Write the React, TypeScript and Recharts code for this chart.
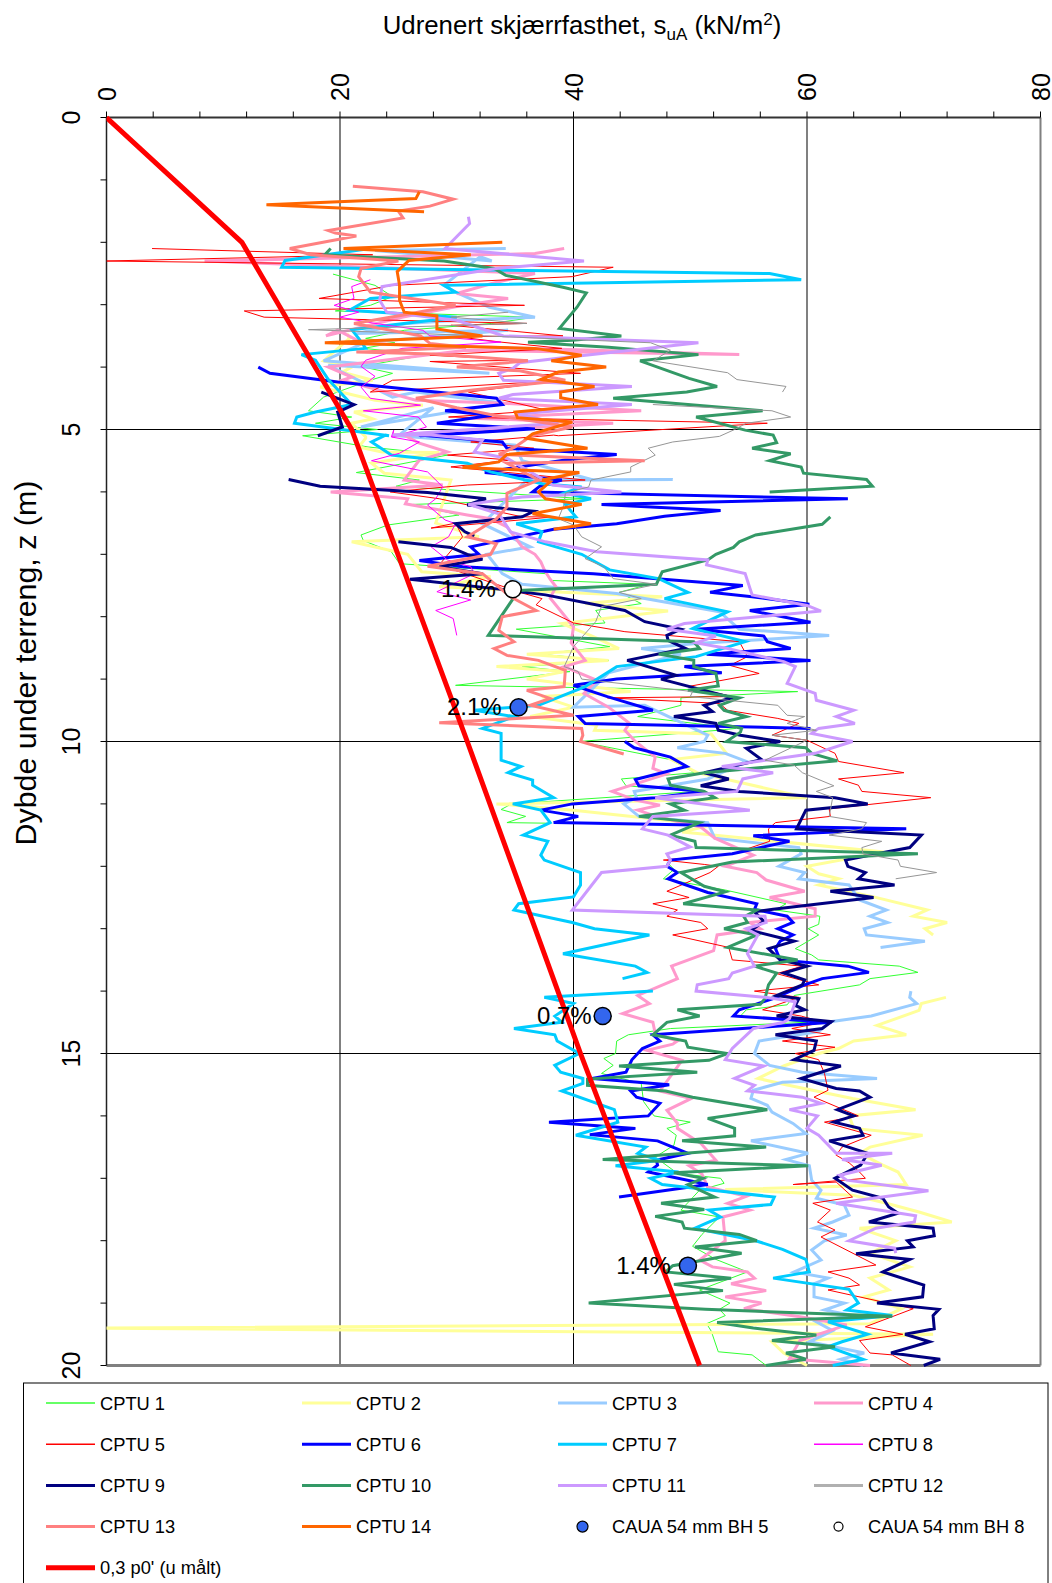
import React from "react";
import { ScatterChart, Scatter, XAxis, YAxis, ReferenceLine, Customized } from "recharts";

type P = [number, number];

const xTicks = [0, 4, 8, 12, 16, 20, 24, 28, 32, 36, 40, 44, 48, 52, 56, 60, 64, 68, 72, 76, 80];
const xLabels = [0, 20, 40, 60, 80];
const yTicks = [0, 1, 2, 3, 4, 5, 6, 7, 8, 9, 10, 11, 12, 13, 14, 15, 16, 17, 18, 19, 20];
const yLabels = [0, 5, 10, 15, 20];

const cptu1: P[] = [[19.4,2.51],[23,2.69],[24.5,2.87],[22.6,3.01],[19.6,3.1],[36.7,3.2],[33,3.3],[25.5,3.41],[22.2,3.54],[24.7,3.61],[22,3.7],[27.5,3.8],[21.8,3.99],[24.5,4.1],[22.6,4.21],[18.6,4.48],[17.3,4.7],[21,4.8],[17.9,4.9],[23.2,5],[16.8,5.1],[22.4,5.28],[29.2,5.41],[21.4,5.69],[26.8,5.81],[24.8,5.91],[41,6.11],[26.3,6.2],[30.2,6.37],[24.1,6.53],[21.8,6.69],[22,6.78],[24.4,6.96],[25.1,7.15],[37.6,7.31],[38.2,7.42],[46.5,7.48],[43.9,7.61],[45.8,7.79],[41.9,7.9],[42.7,8.1],[35.1,8.2],[43.1,8.48],[37,8.6],[43,8.7],[35.6,8.8],[39.7,8.88],[29.9,9.1],[59.2,9.2],[49.2,9.3],[49.2,9.42],[45.5,9.6],[53.9,9.79],[52.4,9.82],[40.5,10],[48.3,10.29],[50.4,10.5],[44.1,10.6],[44.5,10.71],[50.6,10.8],[34.7,11],[33.8,11.09],[35.9,11.2],[34.3,11.3],[38,11.31]];
const cptu1b: P[] = [[48,11.93],[48.6,12.05],[47.7,12.2],[53,12.38],[58.2,12.6],[57.3,12.7],[61.1,12.8],[61,12.93],[60.1,13],[61,13.1],[59,13.32],[60.4,13.42],[61,13.5],[67.9,13.6],[69.5,13.7],[65.4,13.8],[64.5,13.9],[58.9,14.07],[58.3,14.22],[54.8,14.3],[54.3,14.4],[60,14.5],[48.3,14.6],[44.7,14.7],[43.7,14.8],[43.6,15],[42.6,15.08],[43.4,15.19],[42.4,15.32],[45.8,15.48],[46,15.77],[46.9,16],[50,16.1],[48,16.2],[48.8,16.31],[48.6,16.47],[47,16.66],[48.9,16.92],[52.6,17],[52.9,17.08],[50.8,17.19],[49.2,17.51],[52.5,17.62],[51,17.9],[50.2,18.09],[52.2,18.3],[54.9,18.5],[50.8,18.79],[53.4,19],[52.5,19.1],[53,19.2],[51.4,19.33],[51.8,19.45],[52.4,19.78],[55.3,19.83],[56.5,20]];
const cptu2: P[] = [[20.6,3.46],[20.8,3.54],[18.6,3.9],[21,4],[20.2,4.08],[22.8,4.21],[18.3,4.32],[23,4.53],[27.1,4.61],[21.2,4.72],[22.8,4.83],[21,4.9],[22.2,5.12],[22.2,5.14],[21.6,5.28],[23.6,5.36],[28.5,5.37],[22.7,5.54],[23.8,5.7],[29.5,5.81],[28.2,6.5],[31.9,6.72],[21,6.8],[25.8,7],[27,7.28],[32.9,7.36],[28.5,7.52],[47.6,7.68],[41,7.79],[48.1,7.91],[39,8.11],[41.7,8.32],[43.9,8.51],[36,8.6],[43,8.7],[33.4,8.8],[39.2,8.88],[36,9],[44.9,9.2],[37.3,9.28],[40,9.45],[36.3,9.6],[42,9.74],[41.8,9.82],[51.8,9.88],[53.1,10.19],[48.4,10.29],[50.6,10.5],[60,10.9],[33.4,11],[40,11.1],[51.8,11.34],[49.3,11.45],[66.6,11.77],[60,12],[61,12.12],[62.7,12.2],[61,12.3],[65.7,12.49],[70.3,12.7],[69.1,12.8],[72,12.9],[70.1,13],[70.8,13.1]];
const cptu2b: P[] = [[71.9,14.1],[69.8,14.2],[69.6,14.31],[66,14.55],[68.5,14.7],[64,14.8],[62.7,14.92],[61,15],[58,15.2],[55.8,15.4],[58.2,15.5],[63.9,15.72],[69.3,15.9],[63.6,16],[64,16.2],[69.9,16.31],[65.4,16.5],[64.5,16.6],[66.5,16.79],[67.8,16.9],[68.5,17.1],[53,17.18],[63.9,17.27],[66.8,17.4],[69.6,17.54],[72.4,17.7],[64.5,17.8],[67.6,18],[65.4,18.2],[68.8,18.42],[65.4,18.6],[67,18.79],[64.9,18.9],[68.1,19.09],[65.4,19.33],[-1,19.4],[70.8,19.5],[57,19.62],[58,19.8],[60,20]];
const cptu3: P[] = [[34.2,2.1],[23,2.13],[33,2.3],[32,2.23],[28.9,2.69],[29.9,2.8],[32.8,3.04],[36.7,3.2],[30,3.25],[25.7,3.3],[21.4,3.46],[34.4,3.41],[22.2,3.6],[18.6,3.9],[32.8,4.1],[19,3.97],[24.5,4.48],[26.5,4.4],[34,4.58],[21.8,4.96],[28,4.65],[25,5.1],[35,5.25],[35.6,5.5],[41.7,5.81],[48.5,5.8],[36,5.81],[32.2,6.51],[36.3,6.88],[32.6,7],[33.9,7.31],[35.6,7.48],[43.7,7.63],[52.5,7.92],[54.2,8.2],[61.9,8.3],[50.5,8.43],[45.8,8.51],[49.2,8.6],[43,8.9],[40,9.45],[46.1,9.42],[51.5,9.9],[51.2,10],[48.9,10.1],[53,10.19],[54.8,10.32],[51.5,10.6],[45.2,10.8],[45.4,10.9],[44.3,11],[45.6,11.2],[51.5,11.3],[52.1,11.55],[59.3,11.7],[59.5,11.8],[57.6,12],[59.8,12.1],[59.3,12.2],[63.6,12.3],[64.5,12.54],[66.8,12.7],[65.4,12.8],[66.9,12.9],[64.9,13],[65.1,13.1],[70.1,13.2],[66.3,13.3]];
const cptu3b: P[] = [[68.9,14],[68.8,14.1],[69.4,14.2],[65.5,14.4],[62,14.49],[61,14.65],[55.9,14.8],[55.5,15],[56.8,15.19],[59.6,15.3],[66,15.4],[57.9,15.46],[55.4,15.59],[55.2,15.72],[56.6,15.83],[57,15.94],[58.8,16.12],[59.9,16.28],[55.2,16.4],[60.1,16.6],[58.2,16.7],[60.2,16.8],[60.4,17.03],[61.2,17.19],[60.8,17.32],[63.2,17.43],[63.6,17.59],[62.2,17.7],[60.6,17.8],[63.4,17.91],[61.5,18],[60.4,18.15],[61.2,18.31],[58.9,18.5],[61.8,18.6],[60.6,18.69],[60.6,18.9],[63.2,19],[61.5,19.11],[63.9,19.2],[60.8,19.3],[62.2,19.44],[60.2,19.62],[64.9,19.8],[62.9,19.9],[64.8,20]];
const cptu4: P[] = [[39.2,2.1],[36.7,2.18],[8.4,2.3],[36.7,2.5],[33,2.66],[30,2.82],[34.4,2.9],[30,3.03],[25.3,3.2],[18.8,3.5],[19.8,3.41],[22,3.62],[54.2,3.8],[30.8,3.73],[19,4],[21,4.16],[20.2,4.21],[26.5,4.53],[34,4.58],[45.8,4.7],[31.2,4.82],[43.4,4.9],[24.5,5.09],[25.5,5.09],[26.8,5.22],[29.2,5.36],[26.8,5.49],[25.5,5.81],[28.8,5.89],[19.2,6],[25.8,6.11],[25.6,6.19],[30.9,6.37],[32.9,6.43],[34.3,6.56],[35.6,6.88],[36.7,7.0],[37.2,7.12],[37.5,7.25],[38,7.4],[38.5,7.52],[38,7.7],[40,8.16],[39.8,8.42],[41,8.7],[39.2,8.8],[42,9.02],[40.9,9.23],[43,9.45],[44.8,9.71],[44.4,9.82],[45.3,10],[47,10.25],[46.8,10.43],[48,10.52],[43.3,10.8],[45.3,10.94],[47.4,11.02],[45.5,11.1],[47.1,11.2],[50.9,11.37],[52.1,11.55],[55.4,11.82],[53,12],[55.7,12.1],[56.5,12.22],[59.8,12.4],[56.8,12.5],[60.7,12.68],[60.7,12.8],[55.1,12.9],[56,13],[52.3,13.1],[52,13.35],[48.4,13.6],[48.9,13.8],[45.5,14.07],[46.5,14.2],[44.2,14.36],[46.8,14.5],[47,14.68],[48.9,14.8],[48.5,14.85],[46.3,14.95],[49.3,15.11],[47.4,15.6],[50.1,15.72],[48,15.91],[48.9,16.12],[48.9,16.2],[50.9,16.44],[52.2,16.71],[49.9,16.8],[51,16.93],[51.5,17.14],[54.8,17.29],[53.2,17.4],[55.1,17.51],[52.8,17.62],[53,18],[50.8,18.31],[51.9,18.42],[54.9,18.5],[55.5,18.6],[53.5,18.69],[56.5,18.8],[53,18.9],[56.1,19],[54.6,19.09],[59.4,19.22],[63.4,19.35],[59.4,19.6],[58.5,19.89],[65.4,20]];
const cptu5: P[] = [[3.9,2.1],[22.8,2.2],[0,2.3],[43.4,2.4],[39.9,2.55],[24.5,2.69],[18.2,2.9],[35.8,3.01],[11.8,3.1],[13.5,3.2],[36,3.3],[29.5,3.33],[39.1,3.5],[29.9,3.51],[33.8,3.6],[39,3.7],[27.7,3.81],[36.1,3.89],[27.7,3.91],[40.6,4.1],[24.5,4.21],[22.6,4.4],[39.1,4.21],[31,4.4],[37.7,4.69],[29.3,4.8],[56.6,4.9],[38.7,5.1],[38.3,5.09],[31.2,5.2],[36.6,5.3],[29.2,5.41],[34.6,5.49],[29.5,5.6],[41,5.81],[30.9,5.89],[24.3,6],[28.5,6.11],[35.6,6.4],[38.3,6.4],[27.8,6.58],[29.9,6.5],[30.5,6.72],[28.5,7.17],[35.6,7.62],[37.3,7.71],[36.8,7.81],[40,8.1],[44.4,8.24],[54.2,8.4],[54.9,8.64],[53.4,8.78],[55.9,8.91],[49.8,9.12],[53.6,9.28],[42.9,9.3],[52.5,9.39],[53.2,9.5],[57.5,9.63],[59.3,9.71],[57,9.9],[60,9.98],[62.4,10.19],[62.7,10.32],[68.3,10.5],[62.7,10.6],[64.4,10.7],[64.7,10.8],[70.6,10.9],[61.9,11.08],[62,11.2],[57.3,11.3],[56.7,11.4],[56.8,11.6],[53.6,11.8],[47.7,11.9],[51.2,11.97],[52.4,12],[51.7,12.1],[48,12.4],[49.9,12.5],[46.8,12.6],[48.9,12.7],[48,12.8],[50.9,12.9],[51.5,13],[48.5,13.1],[53.3,13.3],[53.6,13.5],[59.6,13.6],[57.4,13.72],[61,13.9],[55.5,14],[59.3,14.1],[56.2,14.3],[59.5,14.4],[61.4,14.5],[58.7,14.6],[62,14.7],[57.9,14.8],[62.4,14.9],[59,15],[61,15.1],[61.5,15.32],[61.8,15.59],[60.6,15.7],[64.4,16],[61.5,16.1],[65.5,16.31],[63,16.5],[62.5,16.63],[63.6,16.75],[64.5,16.9],[65,17],[58.8,17.1],[62.5,17.06],[63.9,17.3],[60.5,17.4],[62,17.51],[60.9,17.7],[62.4,17.83],[61.2,17.94],[65.9,18.39],[61.8,18.5],[63.6,18.6],[64.5,18.71],[61.8,18.79],[69.1,19.09],[65,19.38],[68.2,19.5],[64.5,19.6],[65.4,19.8],[67.3,19.83],[68.9,20]];
const cptu6: P[] = [[13,4],[14,4.1],[19.8,4.24],[33.4,4.5],[33.9,4.6],[29,4.7],[33,4.77],[28.3,4.9],[36.7,4.99],[26.9,5.1],[26.8,5.09],[33.9,5.2],[34.3,5.3],[43.7,5.4],[39.3,5.49],[35.3,5.6],[32.4,5.69],[39,5.81],[37.1,5.91],[36.5,6],[63.5,6.11],[42.4,6.2],[52.6,6.3],[47.8,6.39],[43.7,6.51],[38.3,6.6],[31.2,6.88],[31.9,7],[26.8,7.1],[30.5,7.2],[41.7,7.31],[54.5,7.5],[51.7,7.61],[55.3,7.68],[60.2,7.8],[55.1,7.9],[60.3,8.09],[50.5,8.2],[56.3,8.31],[56.6,8.4],[58.6,8.51],[51.4,8.6],[60.3,8.7],[49.5,8.8],[52.7,8.9],[43.7,9],[40,9.1],[42.9,9.28],[46.8,9.5],[40.4,9.6],[41,9.71],[60.3,9.79]];
const cptu6b: P[] = [[44.4,10],[45.2,10.1],[48.3,10.25],[49.7,10.4],[45.3,10.61],[45.6,10.71],[51.2,10.8],[47,10.9],[39.9,11],[37.2,11.1],[40.4,11.2],[38.3,11.3],[68.5,11.4],[55.4,11.51],[58.5,11.6],[53.6,11.8],[48.3,11.9],[48,12],[48.9,12.1],[48.1,12.2],[51.5,12.42],[55.7,12.6],[55.5,12.69],[58.3,12.8],[58.8,12.9],[57.5,13],[58.8,13.1],[57.7,13.2],[57.3,13.32],[57.7,13.5],[63.5,13.6],[65.3,13.7],[61.3,13.8],[59.8,13.9],[57.1,14.12],[54.2,14.3],[53.7,14.4],[62.1,14.5],[46.8,14.7],[47.4,14.8],[45.9,14.92],[45,15.1],[44.5,15.3],[41.6,15.4],[48.2,15.5],[44.9,15.6],[45.4,15.7],[47.4,15.8],[46.4,16],[37.9,16.1],[45.3,16.2],[41.4,16.3],[47.2,16.4],[48.5,16.5],[49.8,16.6],[47.1,16.71],[47.2,16.79],[46.4,16.9],[51.5,17.1],[43.9,17.3]];
const cptu7: P[] = [[22.6,2.1],[15.3,2.29],[15,2.4],[56.8,2.5],[59.5,2.6],[28.9,2.69],[29.9,2.8],[22.6,2.9],[20.8,3.09],[30,3.2],[21,3.4],[21.6,3.54],[22.2,3.7],[16.7,3.8],[17.9,3.89],[19,4.2],[21,4.6],[17.9,4.72],[16.3,4.8],[16.1,4.9],[24.2,5.1],[23.9,5.09],[22.7,5.2],[24.4,5.41],[30.9,5.54],[32.9,5.68],[37.3,5.87],[40.7,5.92],[39.2,6.02],[41.5,6.11],[39.3,6.2],[40.2,6.4],[35.1,6.51],[37.3,6.64],[37,6.8],[40.7,7],[43.1,7.25],[47.3,7.39],[49.8,7.61],[47.8,7.71],[53.2,7.92],[50.2,8.19],[54.7,8.4],[50.5,8.64],[43.7,8.8],[41,9.12],[37,9.42],[31.5,9.5],[34.9,9.6],[32.2,9.79],[33.8,9.87],[33.8,10.3],[35.5,10.4],[34.4,10.5],[36.5,10.62],[36.5,10.7],[38.3,10.9],[34.8,11],[37.2,11.1],[38,11.3],[35.7,11.5],[37.8,11.6],[37.2,11.82],[37.5,11.9],[40.6,12.1],[40.6,12.3],[40,12.49],[35.3,12.6],[34.9,12.7],[39.9,12.9],[41.8,13],[46.5,13.1],[39.1,13.4],[45.3,13.6],[46.3,13.7],[44.2,13.8]];
const cptu7b: P[] = [[46.8,14],[37.5,14.1],[40,14.2],[38.4,14.4],[39,14.5],[34.9,14.6],[38.4,14.7],[38.6,14.8],[40.5,15],[38.4,15.19],[38.9,15.3],[40.8,15.4],[40.8,15.48],[39,15.6],[43.5,15.9],[43.8,16.1],[40.2,16.31],[46.2,16.5],[45.5,16.6],[47.4,16.71],[43.6,16.8],[49,16.9],[46.6,17],[47.6,17.1],[51.9,17.19],[57.2,17.3],[56.9,17.42],[51.6,17.51],[52.6,17.62],[50.4,17.8],[55.6,18],[57.9,18.14],[59.9,18.3],[60.2,18.5],[57.1,18.6],[63.6,18.78],[64.4,19],[63.4,19.11],[67.3,19.2],[61.8,19.3],[65.2,19.5],[63,19.62],[61.8,19.7],[64.8,19.9],[62.2,20]];
const cptu8: P[] = [[22.6,2.6],[21,2.71],[21.2,2.9],[19.5,3.01],[21.6,3.12],[20,3.2],[23,3.3],[27.1,3.41],[27.7,3.5],[33.8,3.6],[25.3,3.7],[22.2,3.89],[21.8,3.99],[23,4.15],[21.8,4.32],[22.6,4.5],[26.9,4.61],[22,4.7],[26.7,4.8],[27.4,4.96],[24.5,5.12],[24.6,5.01],[24.4,5.12],[26.8,5.2],[25.1,5.38],[22.7,5.5],[27.5,5.68],[28.8,5.92],[28.2,6.11],[27.5,6.21],[29,6.45],[29.9,6.51],[29.3,6.72],[27.8,6.88],[29.2,7.09],[31.2,7.2],[31.5,7.31],[28.3,7.6],[31.2,7.73],[28.2,7.9],[29.7,8.03],[30,8.3]];
const cptu9: P[] = [[18.4,4.4],[21.2,4.6],[19.8,4.72],[20.2,4.96],[18.1,5.1]];
const cptu9b: P[] = [[15.6,5.8],[18.3,5.91],[27.5,6.01],[32.5,6.11],[30.9,6.21],[36.6,6.31],[35.6,6.4],[29.9,6.51],[30.7,6.64],[31.5,6.71]];
const cptu9c: P[] = [[25,6.8],[29.5,6.89],[30.9,7],[32.2,7.08],[28.5,7.2],[32.2,7.31],[26,7.4],[34.2,7.57],[37.6,7.65],[44.4,7.9],[46.1,8.08],[49.2,8.2],[48,8.3],[48.1,8.38],[49.6,8.51],[44.6,8.7],[48.8,8.94],[47.5,9],[53.6,9.3],[51.2,9.42],[51.9,9.52],[48.6,9.6],[52.2,9.71],[52.4,9.82],[54.3,9.9],[57.7,10],[54.8,10.11],[56.1,10.29],[51.2,10.5],[53.3,10.6],[50.9,10.71],[54.2,10.8],[62.4,10.9],[65.2,11],[59.9,11.1],[59.1,11.4],[69.8,11.5],[68.8,11.7],[66,11.8],[63.3,11.9],[63.5,12],[65,12.1],[64.4,12.2],[67.5,12.3],[62,12.4],[65.7,12.5],[57.1,12.69],[55.5,12.73],[56.3,12.88],[55.2,13.03],[58.9,13.2],[56.7,13.32],[57.7,13.5],[60,13.6],[58,13.71],[59.8,13.82],[59.6,13.9],[57.4,14.07],[59.3,14.12],[59,14.23],[59.8,14.3],[57.4,14.4],[62.1,14.49],[61.3,14.6],[57.3,14.7],[60.8,14.8],[60.6,14.95],[58.9,15.1],[62.9,15.2],[59.5,15.4],[62.5,15.56],[64.5,15.6],[65.4,15.7],[62.6,15.9],[64,16],[62.3,16.1],[64.5,16.2],[64.8,16.31],[61.9,16.4],[65.2,16.6],[64.6,16.79],[62.4,17],[63.9,17.19],[66.5,17.32],[67,17.46],[67.8,17.56],[65.3,17.7],[70.8,17.8],[70.9,17.92],[68.6,18],[69.1,18.1],[64.2,18.21],[68.8,18.3],[66.5,18.5],[70,18.71],[69.9,18.9],[66,19],[71.3,19.1],[70.8,19.2],[70.9,19.41],[68.4,19.5],[70.5,19.62],[67.2,19.8],[71.4,19.9],[70,20]];
const cptu10: P[] = [[19.2,2.1],[18.7,2.2],[28.9,2.3],[33.2,2.42],[34.2,2.53],[39.1,2.72],[41.1,2.81],[40.3,3.04],[38.8,3.38],[44.1,3.5],[39.9,3.57],[36.1,3.6],[43,3.68],[50.7,3.8],[45.7,3.9],[49.9,4.18],[52.3,4.31],[49.7,4.4],[43.4,4.5],[56.2,4.7],[50.5,4.8],[54.7,5.01],[57.1,5.09],[57.4,5.21],[55.3,5.3],[58.6,5.39],[56.8,5.5],[59.5,5.6],[59.7,5.7],[65.1,5.8],[65.6,5.91],[56.8,6]];
const cptu10b: P[] = [[62,6.4],[61.3,6.52],[55.6,6.69],[54.2,6.8],[53.7,6.89],[52.2,7],[51.5,7.09],[47.6,7.28],[47.1,7.48],[35.3,7.58],[32.7,8.3],[50.3,8.4],[50.8,8.51],[47.3,8.6],[50.3,8.7],[50.3,8.8],[52.2,8.91],[52.4,9.11],[49.8,9.18],[54.2,9.3],[52.5,9.42],[52.9,9.5],[54.8,9.6],[52.4,9.71],[54.4,9.79],[54.3,9.85],[53.1,10],[59.9,10.1],[60.4,10.19],[62.6,10.31],[51.2,10.5],[48.1,10.6],[48.3,10.7],[51.2,10.8],[52.1,10.9],[48.3,11],[49.5,11.1],[45.6,11.2],[50.8,11.3],[48.3,11.5],[50.4,11.6],[50.5,11.7],[69.5,11.8],[53.6,11.93],[49.2,12.1],[51.2,12.32],[53,12.41],[49.4,12.6],[55.7,12.7],[54.6,12.81],[54.9,12.9],[52.9,13],[55.7,13.1],[53.2,13.3],[59.2,13.5],[55.5,13.6],[57.4,13.71],[56.7,13.9],[56.4,14.12],[56,14.21],[48.9,14.3],[50.8,14.4],[48,14.5],[46.8,14.7],[49.6,14.8],[49.8,14.9],[53.2,15],[51.6,15.11],[43.9,15.2],[50.6,15.3],[41.2,15.41],[41.2,15.51],[47.9,15.6],[50.2,15.7],[56.6,15.9],[51.5,16.04],[53.8,16.2],[53.8,16.32],[49.3,16.4],[56.5,16.5],[42.5,16.7],[60.1,16.8],[48.6,16.91],[51.1,17],[49.8,17.1],[52.1,17.3],[47.5,17.4],[51.2,17.5],[47,17.61],[49.3,17.7],[49.5,17.8],[54.2,17.9],[55.7,18],[50.4,18.1],[54.4,18.2],[48.5,18.4],[47.9,18.5],[53.5,18.6],[48.6,18.7],[52.8,18.8],[41.3,19],[51.3,19.1],[67.3,19.21],[52.3,19.31],[55.4,19.4],[60.8,19.51],[57,19.6],[62.4,19.7],[58.2,19.8],[59.9,19.9],[56.5,20]];
const cptu11: P[] = [[31,1.59],[31.1,1.7],[29,2.1],[40.9,2.3],[33.4,2.42],[23.6,2.71],[23.4,2.93],[24,3.12],[30,3.25],[34,3.5],[50.7,3.61],[38.7,3.86],[35.4,3.93],[34.8,4.02],[33.6,4.1],[34,4.21],[45,4.31],[34.8,4.44],[33.6,4.5],[45,4.6],[35.2,4.75],[38.7,4.9],[24.5,5.09],[27.8,5.09],[32.2,5.17],[31.5,5.36],[34.3,5.46],[38.2,5.89],[44.1,6],[35.6,6.08],[31,6.2],[33.6,6.35],[34.6,6.64],[37.6,6.8],[42,6.96],[51.5,7.09],[51.4,7.17],[54.7,7.31],[55.3,7.65],[60,7.82],[61.2,7.91],[49.5,8.11],[48,8.2],[52.2,8.31],[50.5,8.42],[53.2,8.51],[58,8.72],[59,8.8],[58.3,9.07],[60.7,9.23],[60.8,9.34],[64,9.5],[62.5,9.6],[64.1,9.71],[61,9.79],[60.4,9.87],[63.9,10],[60.7,10.19],[52.7,10.4],[57.1,10.5],[54.5,10.6],[54,10.8],[47,10.9],[55.1,11.1],[46.8,11.2],[45.9,11.4],[48.1,11.5],[50,11.69],[48,11.8],[48.3,11.9],[48,12],[42.4,12.1],[39.9,12.7],[56.4,12.8],[56.5,12.9],[54.8,13],[55.8,13.1],[54.9,13.4],[55.5,13.6],[53.6,13.71],[53.3,13.8],[50.6,13.9],[50.5,14],[56.4,14.1],[59,14.17],[58.5,14.44],[58,14.5],[55.4,14.6],[53.6,14.92],[53,15.1],[56.3,15.2],[53.8,15.4],[55.5,15.51],[54.9,15.6],[59.6,15.7],[61.2,15.8],[58.5,15.9],[60.9,16],[60,16.2],[61,16.31],[62.5,16.6],[67.3,16.6],[63,16.7],[66.4,16.79],[62.8,16.95],[63.4,17.03],[70.4,17.2],[62.5,17.4],[69.3,17.6],[69.2,17.7],[65.9,17.8],[63.6,18],[67.5,18.12],[67.6,18.2]];
const cptu12: P[] = [[34.4,3.12],[29.5,3.2],[36,3.3],[17.3,3.4],[32.4,3.5],[46.6,3.61],[48.3,3.73],[46.8,3.9],[53.2,4.09],[54,4.2],[58.2,4.31],[57.9,4.4]];
const cptu12b: P[] = [[46.8,4.6],[57,4.7],[58.6,4.8],[54.8,4.9],[53.8,5],[52.5,5.11],[48.5,5.2],[46.4,5.3],[47,5.41],[44.9,5.6],[44.9,5.68],[41.5,5.81],[41.3,5.92],[39.3,6.02],[39.2,6.2],[38.7,6.43],[40,6.53],[40.7,6.72],[42.4,6.88],[41,7.07],[42.6,7.2],[43.4,7.39],[47.1,7.48],[43.9,7.61],[45.8,7.71],[42.4,7.84],[41.9,8.08],[40,8.48],[39.2,8.8],[40.4,8.88],[40.7,9],[50.2,9.2],[50,9.28],[57.5,9.42],[58.3,9.58],[59.8,9.6],[58.3,9.71],[60.8,9.82],[57,9.9],[60,9.98],[56.4,10.3],[58.9,10.38],[59.6,10.5],[62.3,10.71],[60.8,10.8],[62.2,10.9],[61.9,11.2],[65.1,11.3],[64.7,11.4],[61.9,11.5],[66.4,11.6],[64.7,11.7],[64.8,11.8],[67.8,11.9],[68,12],[71.1,12.1],[67.6,12.2]];
const cptu13: P[] = [[21.1,1.1],[27.1,1.19],[29.7,1.31],[27.7,1.42],[25,1.5],[25.4,1.61],[19,1.81],[19.6,1.85],[21.4,1.9],[15.7,2.1],[17.5,2.2],[25,2.3],[21.8,2.42],[21.6,2.55],[22.6,2.8],[25,2.87],[29.9,3.01],[25.3,3.17],[21.2,3.3],[26.9,3.5],[27.7,3.62],[30.8,3.68],[21.4,3.76],[28,3.79],[36.1,3.9],[30,4],[35.4,4.06],[39.3,4.21],[31.2,4.37],[26.5,4.5],[30,4.65],[33.2,4.77],[39.9,4.96],[36.4,5.1],[35,5.28],[33.6,5.4],[46.1,5.5],[34.3,5.54],[37,5.81],[34.3,6.02],[34.3,6.24],[33.4,6.43],[30.9,6.72],[33.4,6.83],[32.9,7],[27.5,7.19],[32.2,7.31],[34.6,7.68],[36.8,7.9],[33.9,8],[33.6,8.22],[34.9,8.4],[33.2,8.51],[34.3,8.62],[37,8.7],[39.3,8.86],[39.2,9.12],[36,9.18],[38,9.31],[36.3,9.42],[40,9.58],[28.5,9.7],[40.7,9.79],[40.8,9.9],[40.6,10],[44.3,10.2]];
const cptu14a: P[] = [[26.8,1.19],[26.5,1.3],[13.7,1.4],[27.2,1.51]];
const cptu14: P[] = [[33.9,2],[20.3,2.1],[31.2,2.2],[25.9,2.29],[24.9,2.47],[25.1,2.69],[25.1,2.93],[25.5,3.12],[28.3,3.18],[28.3,3.39],[32.2,3.5],[18.7,3.61],[36.7,3.7],[40.7,3.81],[38.1,3.9],[42.8,4],[38.7,4.08],[37.2,4.2],[41.8,4.31],[38.9,4.4],[38.9,4.49],[42.1,4.6],[35,4.72],[35.2,4.81],[39.9,4.88],[36.5,5.07],[36,5.14],[41.2,5.3],[34.3,5.4],[33.6,5.52],[30.5,5.61],[40.5,5.69],[37.3,5.81],[38,5.84],[37,6],[37.6,6.11],[40.7,6.2],[36.5,6.35],[41.5,6.51],[38.3,6.6]];
const redLine: P[] = [[0,0],[11.6,2],[21,5],[30.9,10],[40.6,15],[50.8,20]];

const caua5 = [{ x: 35.3, z: 9.45, label: "2.1%" }, { x: 42.5, z: 14.4, label: "0.7%" }, { x: 49.8, z: 18.4, label: "1.4%" }];
const caua8 = [{ x: 34.8, z: 7.56, label: "1.4%" }];

const lineSeries: { data: P[]; color: string; w: number }[] = [
  { data: cptu1, color: "#33ff33", w: 1 },
  { data: cptu1b, color: "#33ff33", w: 1 },
  { data: cptu2, color: "#ffff99", w: 3 },
  { data: cptu2b, color: "#ffff99", w: 3 },
  { data: cptu3, color: "#99ccff", w: 3 },
  { data: cptu3b, color: "#99ccff", w: 3 },
  { data: cptu4, color: "#ff99cc", w: 3 },
  { data: cptu5, color: "#ff0000", w: 1 },
  { data: cptu6, color: "#0000ff", w: 3 },
  { data: cptu6b, color: "#0000ff", w: 3 },
  { data: cptu7, color: "#00ccff", w: 3 },
  { data: cptu7b, color: "#00ccff", w: 3 },
  { data: cptu8, color: "#ff00ff", w: 1 },
  { data: cptu9, color: "#000080", w: 3 },
  { data: cptu9b, color: "#000080", w: 3 },
  { data: cptu9c, color: "#000080", w: 3 },
  { data: cptu10, color: "#339966", w: 3 },
  { data: cptu10b, color: "#339966", w: 3 },
  { data: cptu11, color: "#cc99ff", w: 3 },
  { data: cptu12, color: "#969696", w: 1 },
  { data: cptu12b, color: "#969696", w: 1 },
  { data: cptu13, color: "#ff8080", w: 3 },
  { data: cptu14a, color: "#ff6600", w: 3 },
  { data: cptu14, color: "#ff6600", w: 3 },
  { data: redLine, color: "#ff0000", w: 5 },
];

const legendItems: { name: string; color: string; w: number; marker?: string }[] = [
  { name: "CPTU 1", color: "#33ff33", w: 1.5 }, { name: "CPTU 2", color: "#ffff99", w: 3 }, { name: "CPTU 3", color: "#99ccff", w: 3 }, { name: "CPTU 4", color: "#ff99cc", w: 3 },
  { name: "CPTU 5", color: "#ff0000", w: 1.5 }, { name: "CPTU 6", color: "#0000ff", w: 3 }, { name: "CPTU 7", color: "#00ccff", w: 3 }, { name: "CPTU 8", color: "#ff00ff", w: 1.5 },
  { name: "CPTU 9", color: "#000080", w: 3 }, { name: "CPTU 10", color: "#339966", w: 3 }, { name: "CPTU 11", color: "#cc99ff", w: 3 }, { name: "CPTU 12", color: "#b0b0b0", w: 3 },
  { name: "CPTU 13", color: "#ff8080", w: 3 }, { name: "CPTU 14", color: "#ff6600", w: 3 }, { name: "CAUA 54 mm BH 5", color: "#3366ee", w: 0, marker: "#3366ee" }, { name: "CAUA 54 mm BH 8", color: "#000", w: 0, marker: "#ffffff" },
  { name: "0,3 p0' (u målt)", color: "#ff0000", w: 5 },
];

const FONT = "'Liberation Sans', Arial, sans-serif";
const noDot = () => <g />;
const toPts = (a: P[]) => a.map(([x, z]) => ({ x, z }));

const TopTick = (p: any) => xLabels.includes(p.payload.value)
  ? <text transform={`rotate(-90 ${p.x} 101)`} x={p.x} y={101} dominantBaseline="central" textAnchor="start" fontSize={25} fontFamily={FONT} fill="#000">{p.payload.value}</text>
  : <g />;
const LeftTick = (p: any) => yLabels.includes(p.payload.value)
  ? <text transform={`rotate(-90 79.5 ${p.y})`} x={79.5} y={p.y} textAnchor="middle" fontSize={25} fontFamily={FONT} fill="#000">{p.payload.value}</text>
  : <g />;
const Marker = (p: any) => (
  <g>
    <circle cx={p.cx} cy={p.cy} r={8.5} fill={p.mfill} stroke="#000" strokeWidth={1.5} />
    <text x={p.cx - (p.payload.label === "0.7%" ? 11 : 17)} y={p.cy + 8} textAnchor="end" fontSize={24} fontFamily={FONT} fill="#000">{p.payload.label}</text>
  </g>
);
const Titles = () => (
  <g fontFamily={FONT} fill="#000">
    <text x={582} y={34} textAnchor="middle" fontSize={25.8}>
      Udrenert skjærrfasthet, s<tspan fontSize={17} dy={6}>uA</tspan><tspan dy={-6}> (kN/m</tspan><tspan fontSize={17} dy={-9}>2</tspan><tspan dy={9}>)</tspan>
    </text>
    <text transform="rotate(-90 36 663)" x={36} y={663} textAnchor="middle" fontSize={30.4}>Dybde under terreng, z (m)</text>
  </g>
);

export default function App() {
  return (
    <div style={{ position: "absolute", left: 0, top: 0, width: 1052, height: 1583, overflow: "hidden", background: "#fff" }}>
      <ScatterChart width={1052} height={1583} margin={{ top: 0, right: 11.5, bottom: 217.5, left: 0 }}>
        <XAxis xAxisId={0} type="number" dataKey="x" orientation="top" domain={[0, 80]} allowDataOverflow ticks={xTicks} interval={0} height={117.5} tick={TopTick} tickSize={6} tickLine={{ stroke: "#000" }} axisLine={{ stroke: "#333", strokeWidth: 2 }} />
        <YAxis yAxisId={0} type="number" dataKey="z" reversed domain={[0, 20]} ticks={yTicks} interval={0} width={106.5} tick={LeftTick} tickSize={6} tickLine={{ stroke: "#000" }} axisLine={{ stroke: "#222", strokeWidth: 1.5 }} />
        {[20, 60].map((v) => <ReferenceLine key={v} x={v} stroke="#808080" strokeWidth={2} />)}
        <ReferenceLine x={40} stroke="#000" strokeWidth={1} />
        <ReferenceLine x={80} stroke="#808080" strokeWidth={2} />
        {[5, 10, 15].map((v) => <ReferenceLine key={v} y={v} stroke="#000" strokeWidth={1} />)}
        <ReferenceLine y={20} stroke="#808080" strokeWidth={3} />
        {lineSeries.map((s, i) => (
          <Scatter key={i} data={toPts(s.data)} isAnimationActive={false} shape={noDot} line={{ stroke: s.color, strokeWidth: s.w, strokeLinejoin: "miter" }} lineJointType="linear" />
        ))}
        <Scatter data={caua5} isAnimationActive={false} shape={(p: any) => <Marker {...p} mfill="#3366ee" />} />
        <Scatter data={caua8} isAnimationActive={false} shape={(p: any) => <Marker {...p} mfill="#ffffff" />} />
        <Customized component={Titles} />
      </ScatterChart>
      <svg width={1052} height={210} style={{ position: "absolute", left: 0, top: 1373 }}>
        <rect x={23.5} y={10} width={1024.5} height={300} fill="#fff" stroke="#000" strokeWidth={1} />
        {legendItems.map((it, i) => {
          const col = i % 4, row = Math.floor(i / 4);
          const x0 = 46 + col * 256, y = 30 + row * 41.2;
          return (
            <g key={it.name}>
              {it.marker
                ? <circle cx={x0 + 24.5} cy={y} r={it.marker === "#ffffff" ? 4.5 : 5.5} fill={it.marker} stroke="#000" strokeWidth={1.2} />
                : <line x1={x0} x2={x0 + 49} y1={y} y2={y} stroke={it.color} strokeWidth={it.w} />}
              <text x={x0 + 54} y={y + 6.5} fontSize={18.3} fontFamily={FONT} fill="#000">{it.name}</text>
            </g>
          );
        })}
      </svg>
    </div>
  );
}
